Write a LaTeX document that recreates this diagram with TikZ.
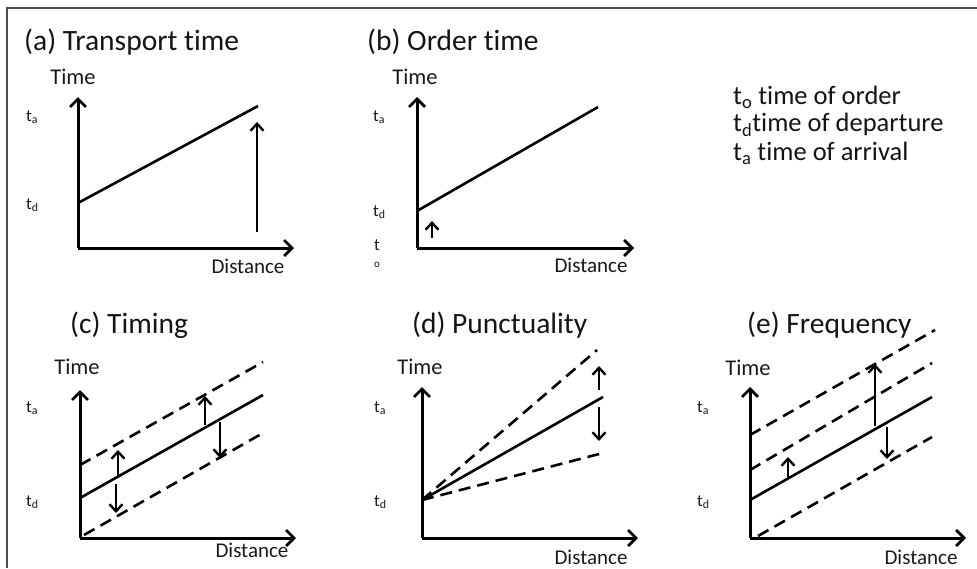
\documentclass[tikz,border=0pt]{standalone}
\usepackage{fontspec}
\setmainfont{Carlito}[RawFeature={-liga}]
\usetikzlibrary{arrows.meta}
\begin{document}
\begin{tikzpicture}[x=1pt,y=-1pt,
  axis/.style={line width=3pt,-{Straight Barb[length=8pt,width=16pt,line width=2.8pt]}},
  curve/.style={line width=2.6pt},
  dsh/.style={line width=2.6pt,dash pattern=on 12pt off 7pt},
  marr/.style={line width=2.4pt,-{Straight Barb[length=7pt,width=13pt,line width=2.4pt]}},
  ttl/.style={anchor=base west,inner sep=0pt,text=black!92,font=\fontsize{29.5}{32}\selectfont},
  tlab/.style={inner sep=0pt,text=black!90,font=\fontsize{22.5}{24}\selectfont},
  dlab/.style={inner sep=0pt,text=black!90,font=\fontsize{21}{22}\selectfont},
  tsm/.style={anchor=west,inner sep=0pt,text=black!90,font=\fontsize{17}{18}\selectfont},
  leg/.style={anchor=west,inner sep=0pt,text=black!92,font=\fontsize{26.5}{28}\selectfont},
  frameline/.style={line width=2pt,draw=black!70}]
\useasboundingbox (0,0) rectangle (977,568);
% frame (top and left edges)
\coordinate (fa) at (7,568);
\coordinate (fb) at (7,8);
\coordinate (fc) at (977,8);
\draw[frameline] (fa) -- (fb) -- (fc);

% ---------- (a) Transport time ----------
\node[ttl] (ta) at (24,50) {(a) Transport time};
\coordinate (ao) at (78,248);
\coordinate (ay) at (78,97);
\coordinate (ax) at (294,248);
\coordinate (as) at (78,203);
\coordinate (ae) at (258,106);
\coordinate (ab) at (257,232);
\coordinate (at) at (257,122);
\draw[axis] (ao) -- (ay);
\draw[axis] (ao) -- (ax);
\draw[curve] (as) -- (ae);
\draw[marr] (ab) -- (at);
\node[tlab] (atime) at (73,77) {Time};
\node[dlab] (adist) at (248,266) {Distance};
\node[tsm] (ata) at (26,117) {t\textsubscript{a}};
\node[tsm] (atd) at (26,205) {t\textsubscript{d}};

% ---------- (b) Order time ----------
\node[ttl] (tb) at (367,50) {(b) Order time};
\coordinate (bo) at (417,248);
\coordinate (by) at (417,97);
\coordinate (bx) at (634,248);
\coordinate (bs) at (417,211);
\coordinate (be) at (598,107);
\coordinate (bb) at (432,238);
\coordinate (bt) at (432,221);
\draw[axis] (bo) -- (by);
\draw[axis] (bo) -- (bx);
\draw[curve] (bs) -- (be);
\draw[marr] (bb) -- (bt);
\node[tlab] (btime) at (415,77) {Time};
\node[dlab] (bdist) at (591,265) {Distance};
\node[tsm] (bta) at (373,117) {t\textsubscript{a}};
\node[tsm] (btd) at (373,212) {t\textsubscript{d}};
\node[tsm] (bt0) at (374,245) {t};
\node[tsm,font=\fontsize{11}{12}\selectfont] (bt1) at (374,265) {o};

% ---------- legend ----------
\node[leg] (l1) at (733,97) {t\textsubscript{o} time of order};
\node[leg] (l2) at (733,125) {t\textsubscript{d}time of departure};
\node[leg] (l3) at (733,153) {t\textsubscript{a} time of arrival};

% ---------- (c) Timing ----------
\node[ttl] (tc) at (70,333) {(c) Timing};
\coordinate (co) at (80,538);
\coordinate (cy) at (80,390);
\coordinate (cx) at (296,538);
\coordinate (cs1) at (80,498);
\coordinate (ce1) at (263,395);
\coordinate (cs2) at (80,465);
\coordinate (ce2) at (263,362);
\coordinate (cs3) at (84,535);
\coordinate (ce3) at (263,433);
\draw[axis] (co) -- (cy);
\draw[axis] (co) -- (cx);
\draw[curve] (cs1) -- (ce1);
\draw[dsh] (cs2) -- (ce2);
\draw[dsh] (cs3) -- (ce3);
\coordinate (c1b) at (118,477);
\coordinate (c1t) at (118,450);
\coordinate (c2b) at (116,484);
\coordinate (c2t) at (116,513);
\coordinate (c3b) at (205,425);
\coordinate (c3t) at (205,396);
\coordinate (c4b) at (220,422);
\coordinate (c4t) at (220,458);
\draw[marr] (c1b) -- (c1t);
\draw[marr] (c2b) -- (c2t);
\draw[marr] (c3b) -- (c3t);
\draw[marr] (c4b) -- (c4t);
\node[tlab] (ctime) at (77,367) {Time};
\node[dlab] (cdist) at (252,550) {Distance};
\node[tsm] (cta) at (26,408) {t\textsubscript{a}};
\node[tsm] (ctd) at (26,502) {t\textsubscript{d}};

% ---------- (d) Punctuality ----------
\node[ttl] (td) at (412,333) {(d) Punctuality};
\coordinate (do) at (422,538);
\coordinate (dy) at (422,387);
\coordinate (dx) at (638,538);
\coordinate (ds) at (422,500);
\coordinate (de1) at (603,397);
\coordinate (de2) at (597,350);
\coordinate (de3) at (603,453);
\draw[axis] (do) -- (dy);
\draw[axis] (do) -- (dx);
\draw[curve] (ds) -- (de1);
\draw[dsh] (ds) -- (de2);
\draw[dsh] (ds) -- (de3);
\coordinate (d1b) at (599,390);
\coordinate (d1t) at (599,366);
\coordinate (d2b) at (599,407);
\coordinate (d2t) at (599,441);
\draw[marr] (d1b) -- (d1t);
\draw[marr] (d2b) -- (d2t);
\node[tlab] (dtime) at (420,367) {Time};
\node[dlab] (ddist) at (591,557) {Distance};
\node[tsm] (dta) at (374,408) {t\textsubscript{a}};
\node[tsm] (dtd) at (374,502) {t\textsubscript{d}};

% ---------- (e) Frequency ----------
\node[ttl] (te) at (747,333) {(e) Frequency};
\coordinate (eo) at (750,538);
\coordinate (ey) at (750,387);
\coordinate (ex) at (966,538);
\coordinate (es1) at (750,500);
\coordinate (ee1) at (932,397);
\coordinate (es2) at (750,470);
\coordinate (ee2) at (932,363);
\coordinate (es3) at (750,435);
\coordinate (ee3) at (935,330);
\coordinate (es4) at (758,536);
\coordinate (ee4) at (932,437);
\draw[axis] (eo) -- (ey);
\draw[axis] (eo) -- (ex);
\draw[curve] (es1) -- (ee1);
\draw[dsh] (es2) -- (ee2);
\draw[dsh] (es3) -- (ee3);
\draw[dsh] (es4) -- (ee4);
\coordinate (e1b) at (788,478);
\coordinate (e1t) at (788,457);
\coordinate (e2b) at (875,426);
\coordinate (e2t) at (875,364);
\coordinate (e3b) at (887,427);
\coordinate (e3t) at (887,459);
\draw[marr] (e1b) -- (e1t);
\draw[marr] (e2b) -- (e2t);
\draw[marr] (e3b) -- (e3t);
\node[tlab] (etime) at (748,368) {Time};
\node[dlab] (edist) at (921,557) {Distance};
\node[tsm] (eta) at (697,408) {t\textsubscript{a}};
\node[tsm] (etd) at (697,502) {t\textsubscript{d}};
\end{tikzpicture}
\end{document}
